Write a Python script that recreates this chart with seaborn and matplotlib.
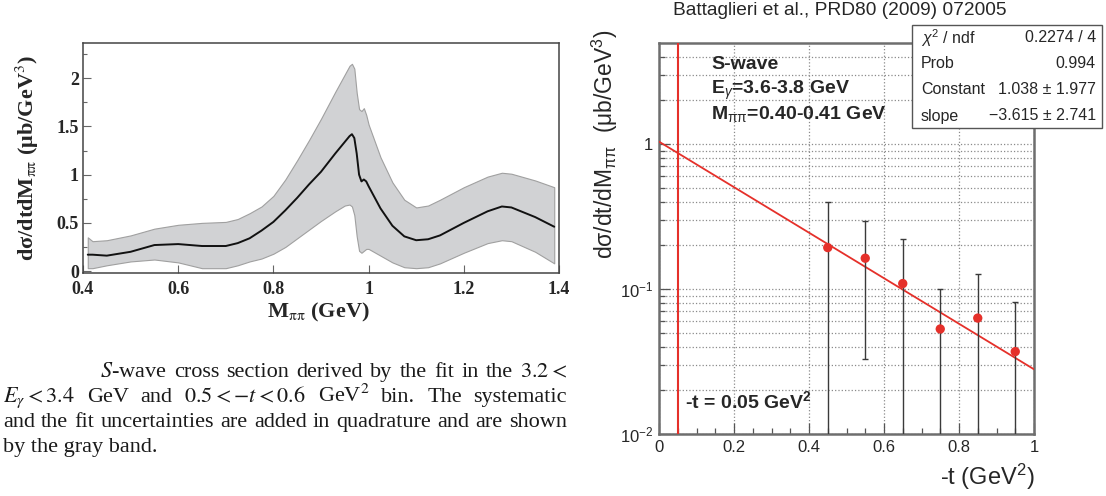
import numpy as np
import matplotlib
matplotlib.use("Agg")
import matplotlib.pyplot as plt
import seaborn as sns
from matplotlib.patches import Rectangle
from matplotlib.ticker import MultipleLocator, FixedLocator, NullFormatter

# left panel: S-wave cross section vs M_pipi (curve + gray band)
m_pipi = [0.41, 0.42, 0.45, 0.50, 0.55, 0.60, 0.65, 0.70, 0.725, 0.75, 0.775,
          0.80, 0.825, 0.85, 0.875, 0.90, 0.93, 0.95, 0.96, 0.965, 0.97,
          0.975, 0.98, 0.985, 0.99, 0.995, 1.00, 1.025, 1.05, 1.075, 1.10,
          1.125, 1.15, 1.20, 1.25, 1.28, 1.30, 1.35, 1.39]
xsec_mid = [0.17, 0.17, 0.16, 0.20, 0.27, 0.28, 0.26, 0.26, 0.29, 0.34, 0.42,
            0.51, 0.63, 0.76, 0.90, 1.03, 1.22, 1.34, 1.40, 1.42, 1.38,
            1.22, 1.00, 0.93, 0.95, 0.93, 0.88, 0.65, 0.47, 0.36, 0.32,
            0.33, 0.37, 0.50, 0.62, 0.67, 0.66, 0.56, 0.46]
xsec_low = [0.03, 0.03, 0.06, 0.10, 0.12, 0.09, 0.03, 0.03, 0.06, 0.10, 0.13,
            0.18, 0.25, 0.34, 0.43, 0.52, 0.62, 0.68, 0.69, 0.67, 0.58,
            0.36, 0.21, 0.19, 0.21, 0.23, 0.23, 0.16, 0.09, 0.04, 0.03,
            0.04, 0.08, 0.19, 0.29, 0.32, 0.31, 0.20, 0.08]
xsec_high = [0.35, 0.31, 0.32, 0.37, 0.44, 0.48, 0.50, 0.51, 0.54, 0.60, 0.67,
             0.78, 0.95, 1.15, 1.36, 1.58, 1.86, 2.04, 2.13, 2.15, 2.10,
             1.85, 1.68, 1.66, 1.69, 1.62, 1.52, 1.18, 0.92, 0.74, 0.66,
             0.68, 0.74, 0.87, 0.98, 1.02, 1.01, 0.94, 0.87]

# right panel: d sigma/dt/dM vs -t with exponential fit
t_vals = [0.45, 0.55, 0.65, 0.75, 0.85, 0.95]
dsig = [0.193, 0.163, 0.109, 0.053, 0.063, 0.037]
dsig_err = [0.203, 0.13, 0.111, 0.047, 0.063, 0.044]
fit_const = 1.038
fit_slope = -3.615
t_cut = 0.05
stat_names = ["$\\chi^2$ / ndf", "Prob", "Constant", "slope"]
stat_values = ["0.2274 / 4", "0.994", "1.038 ± 1.977", "\u22123.615 ± 2.741"]

sns.set_style("ticks")
plt.rcParams["font.family"] = ["Liberation Sans", "DejaVu Sans"]
plt.rcParams["mathtext.fontset"] = "custom"
plt.rcParams["mathtext.rm"] = "Liberation Sans"
plt.rcParams["mathtext.it"] = "Liberation Sans:italic"
plt.rcParams["mathtext.bf"] = "Liberation Sans:bold"

W, H = 1106, 496
fig = plt.figure(figsize=(W / 100, H / 100), dpi=100)


def fx(px):
    return px / W


def fy(py):
    return 1 - py / H


serif = ["Liberation Serif", "DejaVu Serif"]
red = "#e5302a"

# ---------------- left panel ----------------
ax1 = fig.add_axes([fx(83), fy(273), fx(476), (273 - 43) / H])
ax1.fill_between(m_pipi, xsec_low, xsec_high, facecolor="#d1d2d4",
                 edgecolor="#a0a0a0", lw=0.8)
sns.lineplot(x=m_pipi, y=xsec_mid, ax=ax1, color="#111111", lw=1.4)
ax1.set_xlim(0.4, 1.4)
ax1.set_ylim(-0.02, 2.366)
ax1.yaxis.set_minor_locator(MultipleLocator(0.25))
ax1.set_xticks([0.4, 0.6, 0.8, 1.0, 1.2, 1.4])
ax1.set_xticklabels(["0.4", "0.6", "0.8", "1", "1.2", "1.4"])
ax1.set_yticks([0, 0.5, 1, 1.5, 2])
ax1.set_yticklabels(["0", "0.5", "1", "1.5", "2"])
ax1.tick_params(axis="both", which="major", direction="in", length=6,
                width=0.8, color="#666666")
ax1.tick_params(axis="both", which="minor", direction="in", length=3,
                width=0.8, color="#666666")
ax1.tick_params(axis="x", pad=6)
ax1.tick_params(axis="y", pad=3)
for lab in ax1.get_xticklabels() + ax1.get_yticklabels():
    lab.set_family(serif)
    lab.set_fontweight("bold")
    lab.set_fontsize(13)
for sp in ax1.spines.values():
    sp.set_color("#444444")
    sp.set_linewidth(1.1)
ax1.set_xlabel("")
ax1.set_ylabel("")

fig.text(fx(318), fy(317), "M$_{\\mathrm{\\pi\\pi}}$ (GeV)", ha="center",
         va="baseline", family=serif, fontweight="bold", fontsize=16,
         math_fontfamily="stix")
fig.text(fx(27), fy(158), "d\u03c3/dtdM$_{\\mathrm{\\pi\\pi}}$ (\u03bcb/GeV$^{3}$)",
         rotation=90, ha="center", va="center", family=serif,
         fontweight="bold", fontsize=16, math_fontfamily="stix")

# ---------------- caption (justified lines) ----------------
cap_kw = dict(family=serif, fontsize=16, math_fontfamily="stix",
              va="baseline", ha="left", color="#1a1a1a")
caption_lines = [
    (["$S$-wave", "cross", "section", "derived", "by", "the", "fit", "in",
      "the", "$3.2<$"], 100, 567, 377, True),
    (["$E_\\gamma<3.4$", "GeV", "and", "$0.5<-t<0.6$", "GeV$^2$", "bin.",
      "The", "systematic"], 3, 567, 402, True),
    ("and the fit uncertainties are added in quadrature and are shown".split(),
     3, 567, 427, True),
    (["by the gray band."], 3, 567, 452, False),
]
renderer = fig.canvas.get_renderer()
for words, x0, x1, yb, justify in caption_lines:
    texts = [fig.text(fx(x0), fy(yb), w, **cap_kw) for w in words]
    if not justify:
        continue
    widths = [t.get_window_extent(renderer).width for t in texts]
    gap = (x1 - x0 - sum(widths)) / (len(words) - 1)
    x = x0
    for t, w in zip(texts, widths):
        t.set_x(fx(x))
        x += w + gap

# ---------------- right panel ----------------
ax2 = fig.add_axes([fx(659), fy(434), fx(375), (434 - 43) / H])
ax2.set_yscale("log")
ax2.set_xlim(0, 1)
ax2.set_ylim(0.01, 4.97)

ax2.xaxis.set_minor_locator(MultipleLocator(0.05))
minors = [k * 10.0 ** e for e in (-2, -1, 0) for k in range(2, 10)]
ax2.yaxis.set_minor_locator(FixedLocator(minors))
ax2.yaxis.set_minor_formatter(NullFormatter())
ax2.set_yticks([0.01, 0.1, 1])
ax2.set_yticklabels(["$10^{-2}$", "$10^{-1}$", "1"], fontsize=12)
ax2.set_xticks([0, 0.2, 0.4, 0.6, 0.8, 1.0])
ax2.set_xticklabels(["0", "0.2", "0.4", "0.6", "0.8", "1"], fontsize=12)
ax2.tick_params(axis="both", which="major", direction="in", length=8,
                width=0.9, color="#555555")
ax2.tick_params(axis="both", which="minor", direction="in", length=4,
                width=0.9, color="#555555")
ax2.tick_params(axis="x", pad=4)
ax2.tick_params(axis="y", pad=4)
ax2.grid(True, which="major", axis="x", ls=":", color="#8a8a8a", lw=0.9)
ax2.grid(True, which="both", axis="y", ls=":", color="#8a8a8a", lw=0.9)
for sp in ax2.spines.values():
    sp.set_color("#6e6e6e")
    sp.set_linewidth(1.8)

ax2.axvline(t_cut, color=red, lw=1.5, zorder=3)
t_fit = np.linspace(0, 1, 60)
sns.lineplot(x=t_fit, y=fit_const * np.exp(fit_slope * t_fit), ax=ax2,
             color=red, lw=1.3, zorder=4)
ax2.errorbar(t_vals, dsig, yerr=dsig_err, fmt="none", ecolor="#3a3a3a",
             elinewidth=1.0, capsize=2, capthick=1.0, zorder=4)
sns.scatterplot(x=t_vals, y=dsig, ax=ax2, color=red, s=45, edgecolor="none",
                zorder=5)
ax2.set_xlabel("")
ax2.set_ylabel("")

fig.text(fx(840), fy(15), "Battaglieri et al., PRD80 (2009) 072005",
         ha="center", va="baseline", fontsize=13.8)
fig.text(fx(605), fy(144),
         "d\u03c3/dt/dM$_{\\mathrm{\\pi\\pi}}$  (\u03bcb/GeV$^{3}$)",
         rotation=90, ha="center", va="center", fontsize=16.5)
fig.text(fx(1035), fy(485), "-t (GeV$^{2}$)", ha="right", va="baseline",
         fontsize=17)

fig.text(fx(711), fy(69), "S-wave", fontweight="bold", fontsize=14,
         va="baseline")
fig.text(fx(711), fy(94), "E$_{\\gamma}$=3.6-3.8 GeV", fontweight="bold",
         fontsize=14, va="baseline")
fig.text(fx(711), fy(119), "M$_{\\mathrm{\\pi\\pi}}$=0.40-0.41 GeV",
         fontweight="bold", fontsize=14, va="baseline")
fig.text(fx(685), fy(408), "-t = 0.05 GeV$^{\\mathbf{2}}$", fontweight="bold",
         fontsize=14, va="baseline")

# stats box
fig.patches.append(Rectangle((fx(912), fy(128)), fx(1102 - 912), (128 - 25) / H,
                             transform=fig.transFigure, facecolor="white",
                             edgecolor="#555555", lw=1.0, zorder=10))
for i, (name, val) in enumerate(zip(stat_names, stat_values)):
    yc = 38 + 26 * i
    fig.text(fx(921), fy(yc), name, ha="left", va="center", fontsize=11.5,
             zorder=11)
    fig.text(fx(1096), fy(yc), val, ha="right", va="center", fontsize=11.5,
             zorder=11)

fig.savefig("out.png", dpi=100)
